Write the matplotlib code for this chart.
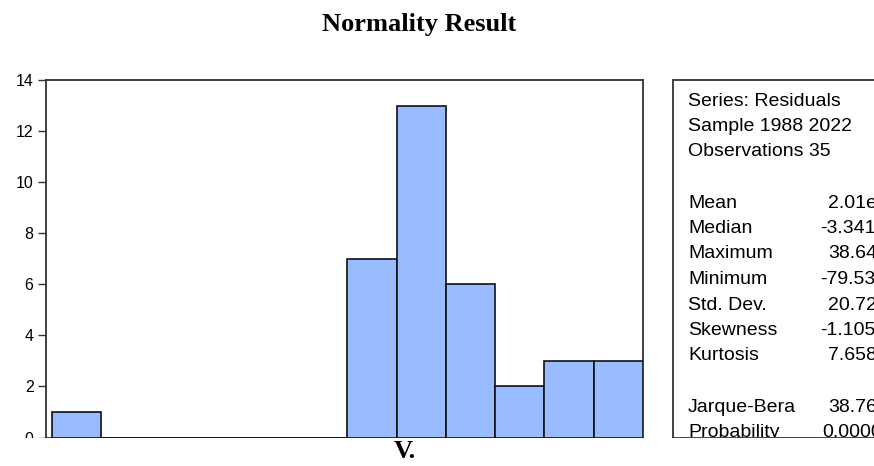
import matplotlib
matplotlib.use("Agg")
import matplotlib.pyplot as plt
from matplotlib.patches import Rectangle

#### Data (residual histogram, bins of width 10)
bin_left = [-80, -70, -60, -50, -40, -30, -20, -10, 0, 10, 20, 30]
counts = [1, 0, 0, 0, 0, 0, 7, 13, 6, 2, 3, 3]
bin_width = 10

yticks = [0, 2, 4, 6, 8, 10, 12, 14]

stat_header = ["Series: Residuals", "Sample 1988 2022", "Observations 35"]
stat_names = ["Mean", "Median", "Maximum", "Minimum", "Std. Dev.",
              "Skewness", "Kurtosis"]
stat_values = ["2.01e", "-3.341", "38.64", "-79.53", "20.72", "-1.105", "7.658"]
test_names = ["Jarque-Bera", "Probability"]
test_values = ["38.76", "0.0000"]

W, H = 874, 466
fig = plt.figure(figsize=(W / 100, H / 100), dpi=100)

def fx(px):
    return px / W

def fy(py):
    return 1 - py / H

#### histogram axes
ax = fig.add_axes([fx(46), fy(437.5), fx(643) - fx(46), fy(80) - fy(437.5)])
ax.bar(bin_left, counts, width=bin_width, align='edge', color='#99bbff',
       edgecolor='#111111', linewidth=1.2, zorder=3)
ax.set_xlim(-81.2, 40)
ax.set_ylim(0, 14)
ax.set_yticks(yticks)
ax.set_xticks([])
ax.tick_params(axis='y', direction='out', length=6, width=1, color='#333333',
               labelsize=11.5, pad=3)
for lab in ax.get_yticklabels():
    lab.set_fontfamily('Liberation Sans')
for s in ax.spines.values():
    s.set_color('#333333')
    s.set_linewidth(1.3)

#### stats box
fig.add_artist(Rectangle((fx(673), fy(438)), 1 - fx(673) + 0.01, fy(80) - fy(438),
                         transform=fig.transFigure, fill=False,
                         edgecolor='#333333', linewidth=1.3, zorder=4))

line_h = 25.5
y0 = 101
tkw = dict(fontsize=14, family='Liberation Sans', va='center', ha='left')
for i, t in enumerate(stat_header):
    fig.text(fx(688), fy(y0 + i * line_h), t, **tkw)
for i, (n, v) in enumerate(zip(stat_names, stat_values)):
    yy = fy(y0 + (i + 4) * line_h)
    fig.text(fx(688), yy, n, **tkw)
    fig.text(fx(820 if v.startswith('-') else 828), yy, v, **tkw)
for i, (n, v) in enumerate(zip(test_names, test_values)):
    yy = fy(y0 + (i + 12) * line_h)
    fig.text(fx(688), yy, n, **tkw)
    fig.text(fx(822 if i == 1 else 828), yy, v, **tkw)

#### white strip at the bottom (the picture is cut there)
fig.add_artist(Rectangle((0, 0), 1, fy(438), transform=fig.transFigure,
                         facecolor='white', edgecolor='none', zorder=10))

fig.text(fx(419), fy(24), "Normality Result", fontsize=19, fontweight='bold',
         family='Liberation Serif', ha='center', va='center')
fig.text(fx(405), fy(452), "V.", fontsize=19, fontweight='bold',
         family='Liberation Serif', ha='center', va='center', zorder=11)

fig.savefig("out.png", dpi=100)
